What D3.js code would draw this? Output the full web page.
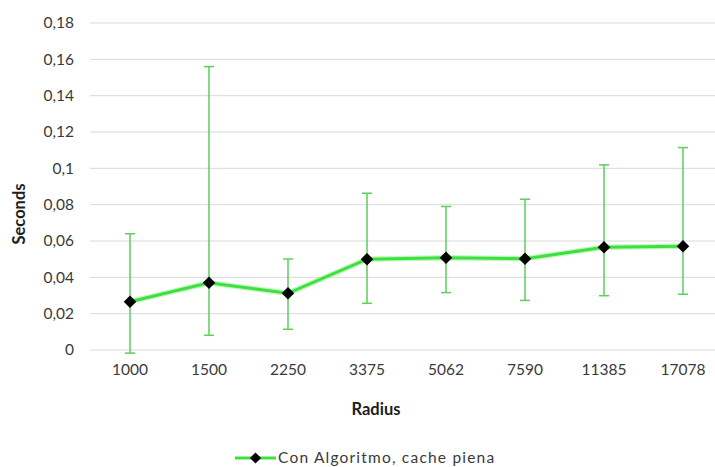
<!DOCTYPE html>
<html>
<head>
<meta charset="utf-8">
<script src="https://cdn.jsdelivr.net/npm/d3@7"></script>
<style>
  html, body { margin: 0; padding: 0; background: #fff; }
  svg { display: block; font-family: Lato, "Open Sans", sans-serif; }
</style>
</head>
<body>
<svg id="chart" width="715" height="467"></svg>
<script>
// Radius categories and measured times (seconds)
const radii = ["1000", "1500", "2250", "3375", "5062", "7590", "11385", "17078"];
const meanTime = [0.0266, 0.0370, 0.0312, 0.0500, 0.0508, 0.0502, 0.0565, 0.0571];
const errLow   = [-0.0017, 0.0081, 0.0114, 0.0257, 0.0316, 0.0273, 0.0299, 0.0307];
const errHigh  = [0.0640, 0.1560, 0.0501, 0.0863, 0.0790, 0.0830, 0.1019, 0.1114];
const yTicks   = [0, 0.02, 0.04, 0.06, 0.08, 0.1, 0.12, 0.14, 0.16, 0.18];
const seriesName = "Con Algoritmo, cache piena";

const svg = d3.select("#chart");
const lineGreen = "#3ee03e";
const barGreen = "#5ccf5c";
const textCol = "#3a3a3a";

const x = d3.scaleBand().domain(radii).range([90.5, 722.5]);
const y = d3.scaleLinear().domain([0, 0.18]).range([350, 23]);
const cx = r => x(r) + x.bandwidth() / 2;

const fmt = v => String(+v.toFixed(2)).replace(".", ",");

// horizontal gridlines
svg.append("g")
  .selectAll("line").data(yTicks).join("line")
  .attr("x1", 90).attr("x2", 715)
  .attr("y1", d => y(d)).attr("y2", d => y(d))
  .attr("stroke", "#d9d9d9").attr("stroke-width", 1);

// y axis labels
const yAxis = svg.append("g").attr("transform", "translate(74,0)")
  .call(d3.axisLeft(y).tickValues(yTicks).tickFormat(fmt).tickSize(0).tickPadding(0));
yAxis.select(".domain").remove();
yAxis.selectAll("text").attr("font-size", 15.5).attr("fill", textCol)
  .attr("font-family", "Lato, 'Open Sans', sans-serif");

// x axis labels
const xAxis = svg.append("g").attr("transform", "translate(0,364)")
  .call(d3.axisBottom(x).tickSize(0).tickPadding(0));
xAxis.select(".domain").remove();
xAxis.selectAll("text").attr("font-size", 15.5).attr("fill", textCol)
  .attr("dy", "0.71em")
  .attr("font-family", "Lato, 'Open Sans', sans-serif");

// axis titles
svg.append("text").attr("x", 376).attr("y", 415)
  .attr("text-anchor", "middle").attr("font-size", 16.5).attr("font-weight", "bold")
  .attr("fill", "#1e1e1e").text("Radius");
svg.append("text").attr("transform", "translate(25,214) rotate(-90)")
  .attr("text-anchor", "middle").attr("font-size", 16.5).attr("font-weight", "bold")
  .attr("fill", "#1e1e1e").text("Seconds");

const data = radii.map((r, i) => ({ r, v: meanTime[i], lo: errLow[i], hi: errHigh[i] }));

// error bars
const eb = svg.append("g").attr("stroke", barGreen).attr("stroke-width", 1.5).attr("fill", "none");
eb.selectAll("line.v").data(data).join("line").attr("class", "v")
  .attr("x1", d => cx(d.r)).attr("x2", d => cx(d.r))
  .attr("y1", d => y(d.lo)).attr("y2", d => y(d.hi));
eb.selectAll("line.t").data(data).join("line").attr("class", "t")
  .attr("x1", d => cx(d.r) - 5).attr("x2", d => cx(d.r) + 5)
  .attr("y1", d => y(d.hi)).attr("y2", d => y(d.hi));
eb.selectAll("line.b").data(data).join("line").attr("class", "b")
  .attr("x1", d => cx(d.r) - 5).attr("x2", d => cx(d.r) + 5)
  .attr("y1", d => y(d.lo)).attr("y2", d => y(d.lo));

// series line with soft halo
const line = d3.line().x(d => cx(d.r)).y(d => y(d.v));
svg.append("path").datum(data).attr("d", line)
  .attr("fill", "none").attr("stroke", "#9df09d").attr("stroke-width", 5.5).attr("opacity", 0.6);
svg.append("path").datum(data).attr("d", line)
  .attr("fill", "none").attr("stroke", lineGreen).attr("stroke-width", 3);

// diamond markers
const diamond = d3.symbol().type(d3.symbolDiamond2).size(100);
svg.append("g").selectAll("path").data(data).join("path")
  .attr("transform", d => `translate(${cx(d.r)},${y(d.v)})`)
  .attr("d", diamond).attr("fill", "#000");

// legend
const lg = svg.append("g").attr("transform", "translate(235,458)");
lg.append("line").attr("x1", 0).attr("x2", 41).attr("y1", 0).attr("y2", 0)
  .attr("stroke", lineGreen).attr("stroke-width", 3);
lg.append("path").attr("transform", "translate(20.5,0)")
  .attr("d", d3.symbol().type(d3.symbolDiamond2).size(80)).attr("fill", "#000");
lg.append("text").attr("x", 43).attr("y", 0).attr("dy", "0.35em")
  .attr("font-size", 15.5).attr("letter-spacing", 1.2)
  .attr("fill", textCol).text(seriesName);
</script>
</body>
</html>
